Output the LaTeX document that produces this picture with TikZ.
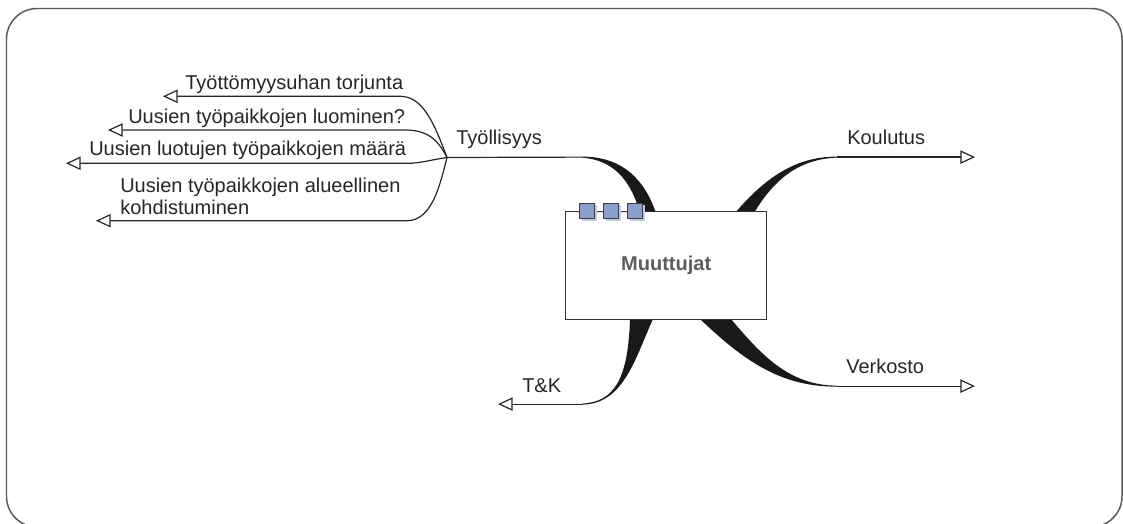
\documentclass[tikz,border=0pt]{standalone}
\usepackage{fontspec}
\setmainfont{Liberation Sans}
\usetikzlibrary{arrows.meta,shadows}
\definecolor{sqfill}{HTML}{8AA0CB}
\definecolor{sqshadow}{HTML}{BFCAE4}
\definecolor{titlegray}{HTML}{5C5C5C}
\definecolor{lncol}{HTML}{262626}
\begin{document}
\begin{tikzpicture}[x=0.75pt,y=-0.75pt,
  lbl/.style={inner sep=0pt, anchor=base west, font=\fontsize{15}{18}\selectfont, text=lncol},
  conn/.style={draw=lncol, line width=0.9pt},
  tipend/.style={-{Triangle[open,length=11pt,width=10pt]}},
  branch/.style={fill=black!90, draw=none},
  mainbox/.style={draw=black!80, fill=white, line width=0.8pt, minimum width=150.75pt, minimum height=81.2pt, inner sep=0pt, font=\bfseries\fontsize{15}{18}\selectfont, text=titlegray},
  sqbox/.style={draw=black!75, fill=sqfill, line width=0.6pt, minimum size=11.4pt, inner sep=0pt,
    drop shadow={shadow xshift=1.8pt, shadow yshift=-1.8pt, fill=sqshadow, opacity=1}}]
\useasboundingbox (0,0) rectangle (1123,524);
% frame
\draw[black!65, line width=1.1pt, rounded corners=23pt] (6.5,8.5) rectangle (1122,527);

% coordinates
\coordinate (fan) at (447,157.5);
\coordinate (tyoB) at (582,157.1);
\coordinate (kouB) at (837,157.1);
\coordinate (kouE) at (975,157.1);
\coordinate (verB) at (837,386.1);
\coordinate (verE) at (975,386.1);
\coordinate (tkB) at (582,404.1);
\coordinate (tkE) at (498,404.1);
\coordinate (s1B) at (400,96.3);
\coordinate (s1E) at (163,96.3);
\coordinate (s2B) at (405,130);
\coordinate (s2E) at (108,130);
\coordinate (s3B) at (408,163.3);
\coordinate (s3E) at (66,163.3);
\coordinate (s4B) at (407,220.7);
\coordinate (s4E) at (96,220.7);

% thick branches
\fill[branch] (582,156.6) .. controls (615,156.5) and (642,172) .. (656,213) -- (640,213) .. controls (630,178) and (612,160) .. (582,157.6) -- cycle;
\fill[branch] (735,213) .. controls (765,178) and (795,156.6) .. (837,156.6) -- (837,157.6) .. controls (802,159) and (776,176) .. (754,213) -- cycle;
\fill[branch] (731,319) .. controls (762,356) and (790,385.6) .. (837,385.6) -- (837,386.6) .. controls (782,387) and (745,362) .. (700,319) -- cycle;
\fill[branch] (653,319) .. controls (636,356) and (624,404.6) .. (582,404.6) -- (582,403.6) .. controls (614,402) and (628,380) .. (630,319) -- cycle;

% central topic
\node[mainbox] (main) at (666.2,265.8) {Muuttujat};
\node[sqbox] (sq1) at (587,210.5) {};
\node[sqbox] (sq2) at (611,210.5) {};
\node[sqbox] (sq3) at (635,210.5) {};

% thin connectors
\draw[conn] (fan) -- (tyoB);
\draw[conn,tipend] (kouB) -- (kouE);
\draw[conn,tipend] (verB) -- (verE);
\draw[conn,tipend] (tkB) -- (tkE);

\draw[conn,tipend] (fan) .. controls (433,120) and (422,96.3) .. (s1B) -- (s1E);
\draw[conn,tipend] (fan) .. controls (438,140) and (428,130) .. (s2B) -- (s2E);
\draw[conn,tipend] (fan) .. controls (430,160) and (420,163.3) .. (s3B) -- (s3E);
\draw[conn,tipend] (fan) .. controls (440,185) and (432,220.7) .. (s4B) -- (s4E);

% labels
\node[lbl] (ltyo) at (456,145) {Työllisyys};
\node[lbl] (lkou) at (847,145) {Koulutus};
\node[lbl] (lver) at (846,373.5) {Verkosto};
\node[lbl] (ltk) at (522,392.5) {T\&K};
\node[lbl] (l1) at (185,89.5) {Työttömyysuhan torjunta};
\node[lbl] (l2) at (128,123) {Uusien työpaikkojen luominen?};
\node[lbl] (l3) at (89,156) {Uusien luotujen työpaikkojen määrä};
\node[lbl] (l4a) at (120,192.5) {Uusien työpaikkojen alueellinen};
\node[lbl] (l4b) at (120,214.5) {kohdistuminen};
\end{tikzpicture}
\end{document}
